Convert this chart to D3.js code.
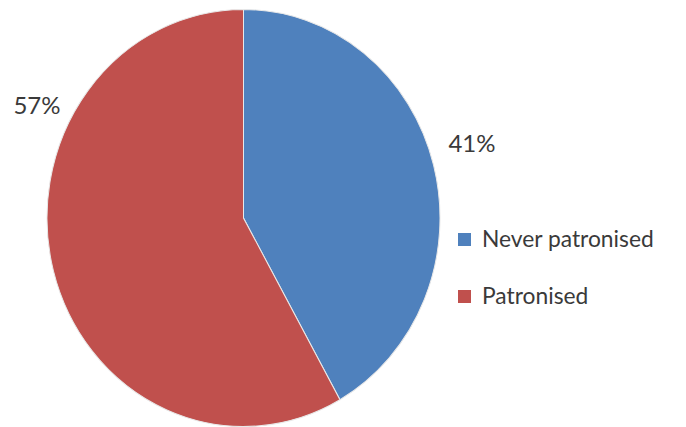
<!DOCTYPE html>
<html>
<head>
<meta charset="utf-8">
<script src="https://cdn.jsdelivr.net/npm/d3@7/dist/d3.min.js"></script>
<style>
  html, body { margin: 0; padding: 0; background: #fff; }
  svg { display: block; }
  text { font-family: Lato, "Open Sans", sans-serif; fill: #3a3a3a; }
</style>
</head>
<body>
<svg id="chart" width="686" height="427"></svg>
<script>
// Survey shares
const categories = ["Never patronised", "Patronised"];
const values = [41, 57];
const labels = ["41%", "57%"];
const colors = ["#4F81BD", "#C0504D"];

const svg = d3.select("#chart");
// The pie is drawn slightly stretched vertically
const cx = 243.5, cy = 218, rx = 196.5, ry = 208.5;

const pie = d3.pie().sort(null).value(d => d.value);
const arcs = pie(categories.map((c, i) => ({ name: c, value: values[i], label: labels[i], color: colors[i] })));
const arc = d3.arc().innerRadius(0).outerRadius(rx);

const g = svg.append("g").attr("transform", `translate(${cx},${cy}) scale(1,${ry / rx})`);
g.selectAll("path")
  .data(arcs)
  .join("path")
  .attr("d", arc)
  .attr("fill", d => d.data.color)
  .attr("stroke", "#e8e8e8")
  .attr("stroke-width", 1);

// Percentage labels sit outside the rim, near the upper end of each slice
const labelPos = [[472, 144], [37, 106]];
svg.selectAll("text.pct")
  .data(arcs)
  .join("text")
  .attr("class", "pct")
  .attr("x", (d, i) => labelPos[i][0])
  .attr("y", (d, i) => labelPos[i][1])
  .attr("text-anchor", "middle")
  .attr("dy", "0.35em")
  .style("font-size", "24px")
  .text(d => d.data.label);

// Legend
const legend = svg.append("g").attr("transform", "translate(458,233)");
const item = legend.selectAll("g")
  .data(categories)
  .join("g")
  .attr("transform", (d, i) => `translate(0,${i * 57})`);
item.append("rect")
  .attr("width", 13).attr("height", 13)
  .attr("fill", (d, i) => colors[i]);
item.append("text")
  .attr("x", 24).attr("y", 14)
  .style("font-size", "22.8px")
  .text(d => d);
</script>
</body>
</html>
